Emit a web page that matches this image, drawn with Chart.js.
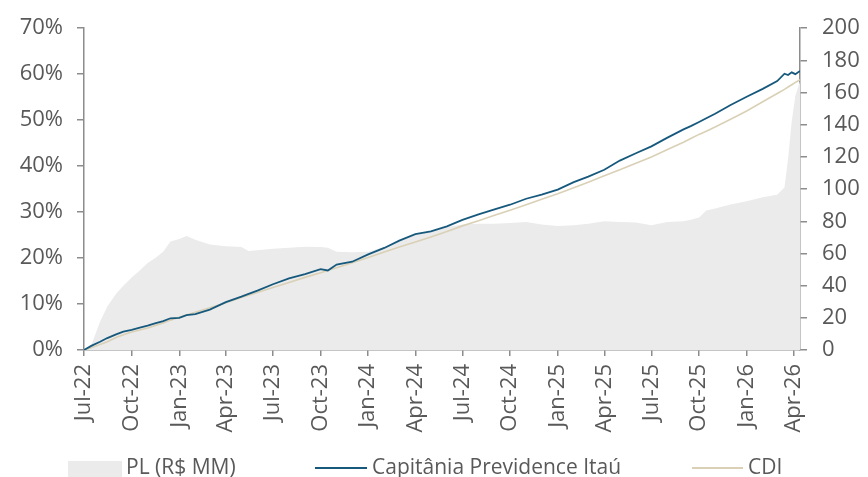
<!DOCTYPE html>
<html>
<head>
<meta charset="utf-8">
<script src="https://cdn.jsdelivr.net/npm/chart.js@4/dist/chart.umd.min.js"></script>
<style>
  html, body { margin: 0; padding: 0; background: #fff; overflow: hidden; }
  #wrap { position: relative; width: 868px; height: 477px; }
  #legend { position: absolute; left: 0; top: 0; width: 868px; height: 477px; pointer-events: none; }
  .lg-box, .lg-line, .lg-text { position: absolute; }
  .lg-text { font-family: "Open Sans", sans-serif; font-size: 21px; line-height: 21px; color: #595959; white-space: nowrap; }
</style>
</head>
<body>
<div id="wrap">
  <canvas id="grafico" width="868" height="477"></canvas>
  <div id="legend"></div>
</div>
<script>
// datas das observações
const datas = [
  '2022-07-01', '2022-07-15', '2022-08-01', '2022-08-15', '2022-09-01', '2022-09-15',
  '2022-10-01', '2022-10-15', '2022-11-01', '2022-11-15', '2022-12-01', '2022-12-15',
  '2023-01-01', '2023-01-15', '2023-02-01', '2023-03-01', '2023-04-01', '2023-05-01',
  '2023-05-15', '2023-06-01', '2023-07-01', '2023-08-01', '2023-09-01', '2023-10-01',
  '2023-10-15', '2023-11-01', '2023-12-01', '2024-01-01', '2024-02-01', '2024-03-01',
  '2024-04-01', '2024-05-01', '2024-06-01', '2024-07-01', '2024-08-01', '2024-09-01',
  '2024-10-01', '2024-11-01', '2024-12-01', '2025-01-01', '2025-02-01', '2025-03-01',
  '2025-04-01', '2025-05-01', '2025-06-01', '2025-07-01', '2025-08-01', '2025-09-01',
  '2025-09-15', '2025-10-01', '2025-10-15', '2025-11-01', '2025-12-01', '2026-01-01',
  '2026-02-01', '2026-03-01', '2026-03-15', '2026-03-22', '2026-03-29', '2026-04-05',
  '2026-04-14'
];

// rentabilidade acumulada (%)
const fundo = [
  0, 0.9, 1.8, 2.6, 3.4, 4.0,
  4.4, 4.8, 5.3, 5.8, 6.3, 6.9,
  7.0, 7.6, 7.8, 8.8, 10.4, 11.6,
  12.2, 12.9, 14.3, 15.6, 16.5, 17.6,
  17.3, 18.6, 19.2, 20.8, 22.2, 23.8,
  25.2, 25.8, 26.9, 28.3, 29.5, 30.6,
  31.6, 32.9, 33.8, 34.9, 36.5, 37.7,
  39.2, 41.2, 42.8, 44.3, 46.2, 48.0,
  48.7, 49.6, 50.4, 51.4, 53.3, 55.1,
  56.8, 58.5, 60.1, 59.8, 60.4, 60.0,
  60.7
];

const cdi = [
  0, 0.5, 1.2, 1.8, 2.7, 3.3,
  3.9, 4.3, 4.8, 5.3, 5.9, 6.5,
  7.1, 7.6, 8.2, 9.2, 10.3, 11.4,
  11.9, 12.5, 13.6, 14.7, 15.8, 16.8,
  17.3, 17.9, 19.0, 20.1, 21.3, 22.4,
  23.5, 24.6, 25.8, 27.0, 28.1, 29.3,
  30.4, 31.6, 32.8, 34.0, 35.3, 36.5,
  37.9, 39.2, 40.6, 42.0, 43.6, 45.2,
  46.0, 46.9, 47.6, 48.5, 50.2, 52.0,
  54.0, 55.8, 56.7, 57.2, 57.7, 58.2,
  58.8
];

// patrimônio líquido (R$ MM)
const pl = [
  0, 3, 17.5, 27, 35, 40,
  45, 49, 54, 57, 61, 67.5,
  69, 70.8, 68.5, 65.5, 64.5, 64,
  61.5, 62, 63, 63.5, 64.2, 64,
  63.6, 61, 60.7, 61, 64, 68,
  71.5, 74, 76.5, 78, 78.5, 78.5,
  79, 79.5, 78, 77, 77.5, 78.5,
  80, 79.5, 79.3, 77.5, 79.5, 80,
  81, 82.3, 86.7, 88, 90.5, 92.5,
  95, 96.5, 101, 119, 142, 158,
  167
];

const nomes = ['PL (R$ MM)', 'Capitânia Previdence Itaú', 'CDI'];
const trimestres = ['2022-07-01', '2022-10-01', '2023-01-01', '2023-04-01', '2023-07-01', '2023-10-01',
  '2024-01-01', '2024-04-01', '2024-07-01', '2024-10-01', '2025-01-01', '2025-04-01',
  '2025-07-01', '2025-10-01', '2026-01-01', '2026-04-01'];
const rotulosX = ['Jul-22', 'Oct-22', 'Jan-23', 'Apr-23', 'Jul-23', 'Oct-23', 'Jan-24', 'Apr-24',
  'Jul-24', 'Oct-24', 'Jan-25', 'Apr-25', 'Jul-25', 'Oct-25', 'Jan-26', 'Apr-26'];

const cores = { pl: '#ebebeb', fundo: '#16597d', cdi: '#d9d0b6', eixo: '#8c8c8c', texto: '#595959' };

const inicio = Date.UTC(2022, 6, 1);
const dia = s => {
    const [a, m, d] = s.split('-').map(Number);
    return Math.round((Date.UTC(a, m - 1, d) - inicio) / 86400000);
};
const xs = datas.map(dia);
const pontos = serie => serie.map((v, i) => ({ x: xs[i], y: v }));
const ticksX = trimestres.map(dia);

const fonte = { family: '"Open Sans", sans-serif', size: 22 };

new Chart(document.getElementById('grafico'), {
    type: 'line',
    data: {
        datasets: [
            {
                label: nomes[0],
                data: pontos(pl),
                yAxisID: 'y2',
                backgroundColor: cores.pl,
                borderWidth: 0,
                fill: 'origin',
                pointRadius: 0,
                order: 3
            },
            {
                label: nomes[1],
                data: pontos(fundo),
                yAxisID: 'y',
                borderColor: cores.fundo,
                borderWidth: 1.8,
                pointRadius: 0,
                fill: false,
                order: 1
            },
            {
                label: nomes[2],
                data: pontos(cdi),
                yAxisID: 'y',
                borderColor: cores.cdi,
                borderWidth: 1.6,
                pointRadius: 0,
                fill: false,
                order: 2
            }
        ]
    },
    options: {
        responsive: false,
        animation: false,
        devicePixelRatio: 1,
        layout: { padding: { top: 27, left: 0, right: 0, bottom: 0 } },
        plugins: { legend: { display: false }, tooltip: { enabled: false } },
        scales: {
            x: {
                type: 'linear',
                min: 0,
                max: dia('2026-04-14'),
                afterBuildTicks: scale => { scale.ticks = ticksX.map(v => ({ value: v })); },
                afterFit: scale => { scale.height = 127; },
                grid: { drawOnChartArea: false, color: cores.eixo, tickLength: 6, lineWidth: 1.5 },
                border: { color: cores.eixo, width: 1.5 },
                ticks: {
                    autoSkip: false,
                    minRotation: 90,
                    maxRotation: 90,
                    padding: 8,
                    color: cores.texto,
                    font: fonte,
                    callback: val => rotulosX[ticksX.indexOf(val)] || ''
                }
            },
            y: {
                position: 'left',
                min: 0,
                max: 70,
                afterFit: scale => { scale.width = 84; },
                grid: { drawOnChartArea: false, color: cores.eixo, tickLength: 7, lineWidth: 1.5 },
                border: { color: cores.eixo, width: 1.5 },
                ticks: { stepSize: 10, padding: 14, color: cores.texto, font: fonte, callback: v => v + '%' }
            },
            y2: {
                position: 'right',
                min: 0,
                max: 200,
                afterFit: scale => { scale.width = 68; },
                grid: { drawOnChartArea: false, color: cores.eixo, tickLength: 7, lineWidth: 1.5 },
                border: { color: cores.eixo, width: 1.5 },
                ticks: { stepSize: 20, padding: 15, color: cores.texto, font: fonte }
            }
        }
    }
});

// legenda em HTML, abaixo do gráfico
const legenda = document.getElementById('legend');
const itens = [
    { tipo: 'box', cor: cores.pl, x: 68, w: 54, txt: 126 },
    { tipo: 'line', cor: cores.fundo, x: 315, w: 52, txt: 372 },
    { tipo: 'line', cor: cores.cdi, x: 692, w: 51, txt: 748 }
];
itens.forEach((it, i) => {
    const m = document.createElement('div');
    m.className = it.tipo === 'box' ? 'lg-box' : 'lg-line';
    m.style.left = it.x + 'px';
    m.style.width = it.w + 'px';
    m.style.background = it.cor;
    m.style.top = it.tipo === 'box' ? '461px' : '467px';
    m.style.height = it.tipo === 'box' ? '16px' : '1.6px';
    legenda.appendChild(m);
    const t = document.createElement('span');
    t.className = 'lg-text';
    t.style.left = it.txt + 'px';
    t.style.top = '456px';
    t.textContent = nomes[i];
    legenda.appendChild(t);
});
</script>
</body>
</html>
